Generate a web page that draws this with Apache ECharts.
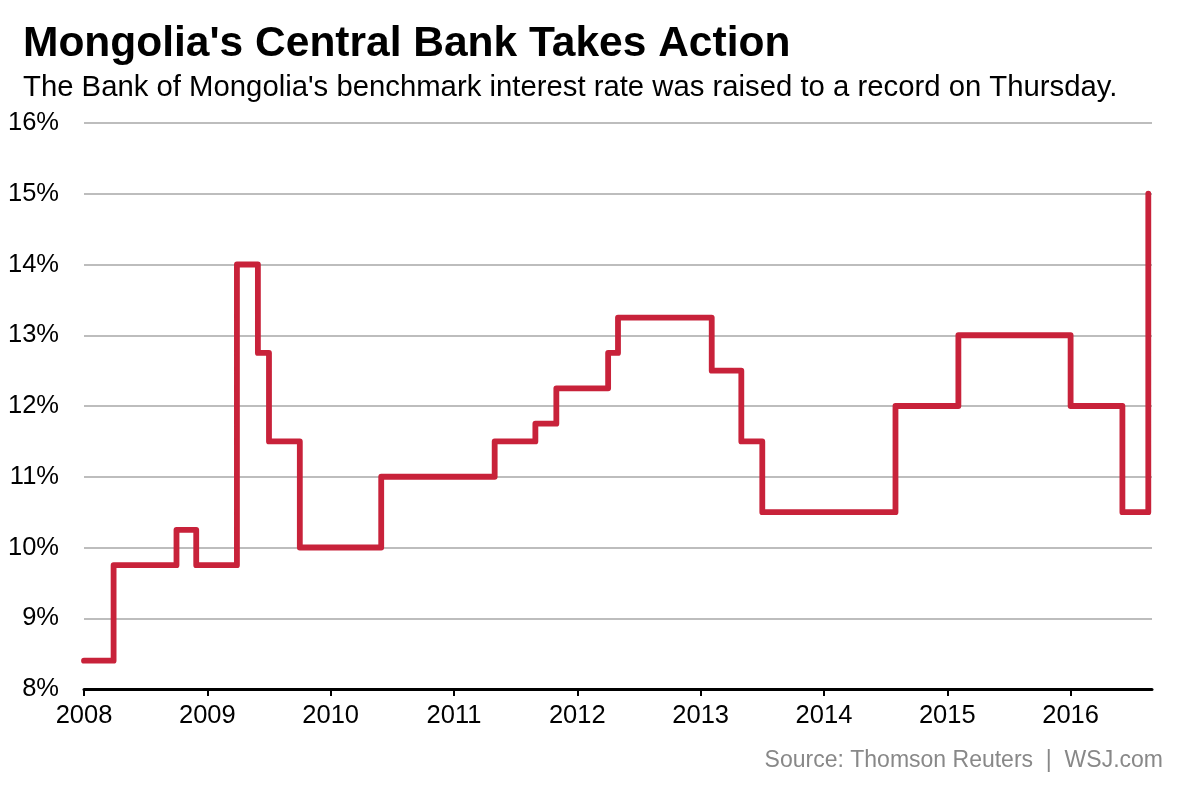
<!DOCTYPE html>
<html>
<head>
<meta charset="utf-8">
<script src="https://cdn.jsdelivr.net/npm/echarts@6/dist/echarts.min.js"></script>
<style>
html,body{margin:0;padding:0;background:#fff;}
#chart{width:1200px;height:800px;}
</style>
</head>
<body>
<div id="chart"></div>
<script>
// Decision dates (decimal years) and the new benchmark rate (%) from each date
const dates = [2008.0, 2008.24, 2008.75, 2008.91, 2009.24, 2009.41, 2009.5, 2009.75, 2010.41, 2011.33, 2011.66, 2011.83, 2012.25, 2012.33, 2013.09, 2013.33, 2013.5, 2014.58, 2015.09, 2016.0, 2016.42, 2016.63];
const rates = [8.4, 9.75, 10.25, 9.75, 14, 12.75, 11.5, 10, 11, 11.5, 11.75, 12.25, 12.75, 13.25, 12.5, 11.5, 10.5, 12, 13, 12, 10.5, 15];
const yearTicks = [2008, 2009, 2010, 2011, 2012, 2013, 2014, 2015, 2016];
const yTicks = [8, 9, 10, 11, 12, 13, 14, 15, 16];

const titleText = "Mongolia's Central Bank Takes Action";
const subtitleText = "The Bank of Mongolia's benchmark interest rate was raised to a record on Thursday.";
const sourceText = "Source: Thomson Reuters  |  WSJ.com";

const chart = echarts.init(document.getElementById('chart'), null, {renderer: 'canvas'});
const font = '"Liberation Sans", Arial, Helvetica, sans-serif';

chart.setOption({
  backgroundColor: '#fff',
  animation: false,
  textStyle: {fontFamily: font},
  graphic: [
    {type: 'text', left: 23, top: 23, style: {text: titleText, font: 'bold 42.5px ' + font, fill: '#000'}},
    {type: 'text', left: 23, top: 73, style: {text: subtitleText, font: '29.3px ' + font, fill: '#000'}},
    {type: 'text', right: 37, top: 749, style: {text: sourceText, font: '23px ' + font, fill: '#888'}}
  ],
  grid: {left: 84, right: 48, top: 123, bottom: 111, containLabel: false},
  xAxis: {
    type: 'value',
    min: 2008,
    max: 2016.66,
    splitLine: {show: false},
    axisLine: {show: true, lineStyle: {color: '#000', width: 3}},
    axisTick: {show: true, customValues: yearTicks, length: 7, lineStyle: {color: '#000', width: 2}},
    axisLabel: {customValues: yearTicks, color: '#000', fontSize: 25.5, margin: 14, formatter: v => String(Math.round(v))}
  },
  yAxis: {
    type: 'value',
    min: 8,
    max: 16,
    interval: 1,
    axisLine: {show: false},
    axisTick: {show: false},
    splitLine: {show: true, lineStyle: {color: '#bdbdbd', width: 2}},
    axisLabel: {color: '#000', fontSize: 25.5, margin: 25, formatter: v => v + '%'}
  },
  series: [{
    type: 'line',
    step: 'end',
    data: dates.map((d, i) => [d, rates[i]]),
    showSymbol: false,
    clip: false,
    lineStyle: {color: '#c8223a', width: 5.8, join: 'round', cap: 'round'}
  }]
});
</script>
</body>
</html>
